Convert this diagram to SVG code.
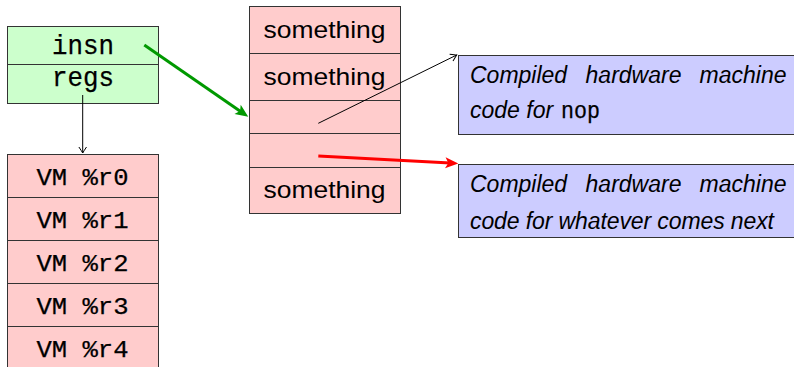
<svg xmlns="http://www.w3.org/2000/svg" width="794" height="367" viewBox="0 0 794 367">
<style>
.box{stroke:#333;stroke-width:1}
.g{fill:#ccffcc}
.p{fill:#ffcccc}
.b{fill:#ccccff}
.tt{font-family:"Liberation Mono",monospace;fill:#000;stroke:#000;stroke-width:0.25;text-anchor:middle}
.ss{font-family:"Liberation Sans",sans-serif;font-size:24px;fill:#000;text-anchor:middle}
.it{font-family:"Liberation Sans",sans-serif;font-style:italic;font-size:23px;fill:#000}
</style>
<defs>
<marker id="thin" markerUnits="userSpaceOnUse" markerWidth="20" markerHeight="20" orient="auto" overflow="visible" refX="0" refY="0">
<path d="M-6,-3.8 Q-1.5,-0.8 0,0 Q-1.5,0.8 -6,3.8" fill="none" stroke="#000" stroke-width="1"/>
</marker>
<marker id="greenHead" markerUnits="userSpaceOnUse" markerWidth="30" markerHeight="30" orient="auto" overflow="visible" refX="0" refY="0">
<path d="M8,0 L-5,-5.5 L-2,0 L-5,5.5 Z" fill="#009900"/>
</marker>
<marker id="redHead" markerUnits="userSpaceOnUse" markerWidth="30" markerHeight="30" orient="auto" overflow="visible" refX="0" refY="0">
<path d="M8,0 L-5,-5.5 L-2,0 L-5,5.5 Z" fill="#ff0000"/>
</marker>
</defs>
<g id="state">
<rect class="box g" x="7.5" y="26.5" width="151" height="38"/>
<rect class="box g" x="7.5" y="64.5" width="151" height="39"/>
<text class="tt" x="83" y="54" font-size="28" textLength="62" lengthAdjust="spacingAndGlyphs">insn</text>
<text class="tt" x="83" y="86" font-size="28" textLength="62" lengthAdjust="spacingAndGlyphs">regs</text>
</g>
<g id="registers">
<rect class="box p" x="7.5" y="154.5" width="151" height="43"/>
<rect class="box p" x="7.5" y="197.5" width="151" height="43"/>
<rect class="box p" x="7.5" y="240.5" width="151" height="43"/>
<rect class="box p" x="7.5" y="283.5" width="151" height="43"/>
<rect class="box p" x="7.5" y="326.5" width="151" height="45"/>
<text class="tt" x="82.5" y="185" font-size="24" textLength="92" lengthAdjust="spacingAndGlyphs">VM %r0</text>
<text class="tt" x="82.5" y="228" font-size="24" textLength="92" lengthAdjust="spacingAndGlyphs">VM %r1</text>
<text class="tt" x="82.5" y="271" font-size="24" textLength="92" lengthAdjust="spacingAndGlyphs">VM %r2</text>
<text class="tt" x="82.5" y="314" font-size="24" textLength="92" lengthAdjust="spacingAndGlyphs">VM %r3</text>
<text class="tt" x="82.5" y="357" font-size="24" textLength="92" lengthAdjust="spacingAndGlyphs">VM %r4</text>
</g>
<g id="code">
<rect class="box p" x="249.5" y="6.5" width="151" height="47"/>
<rect class="box p" x="249.5" y="53.5" width="151" height="47"/>
<rect class="box p" x="249.5" y="100.5" width="151" height="33"/>
<rect class="box p" x="249.5" y="133.5" width="151" height="34"/>
<rect class="box p" x="249.5" y="167.5" width="151" height="46"/>
<text class="ss" x="324.5" y="37.5" textLength="122" lengthAdjust="spacingAndGlyphs">something</text>
<text class="ss" x="324.5" y="84.5" textLength="122" lengthAdjust="spacingAndGlyphs">something</text>
<text class="ss" x="324.5" y="198" textLength="122" lengthAdjust="spacingAndGlyphs">something</text>
</g>
<g id="nopcode">
<rect class="box b" x="458.5" y="55.5" width="340" height="79"/>
<text class="it" x="470" y="83">Compiled</text>
<text class="it" x="633.5" y="83" text-anchor="middle">hardware</text>
<text class="it" x="786.5" y="83" text-anchor="end">machine</text>
<text class="it" x="470" y="118">code for</text>
<text class="tt" x="580.5" y="118" font-size="23" textLength="39" lengthAdjust="spacingAndGlyphs" stroke-width="0.15">nop</text>
</g>
<g id="nextcode">
<rect class="box b" x="458.5" y="164.5" width="340" height="73"/>
<text class="it" x="470" y="192">Compiled</text>
<text class="it" x="633.5" y="192" text-anchor="middle">hardware</text>
<text class="it" x="786.5" y="192" text-anchor="end">machine</text>
<text class="it" x="470" y="228.5" textLength="304" lengthAdjust="spacing">code for whatever comes next</text>
</g>
<g id="connectors" fill="none">
<line x1="82.7" y1="95" x2="82.7" y2="153" stroke="#000" stroke-width="1" marker-end="url(#thin)"/>
<line x1="144.3" y1="45" x2="241.7" y2="112.2" stroke="#009900" stroke-width="3" marker-end="url(#greenHead)"/>
<line x1="318.3" y1="123.3" x2="456.7" y2="55" stroke="#000" stroke-width="1" marker-end="url(#thin)"/>
<line x1="318.3" y1="156" x2="450.3" y2="163.1" stroke="#ff0000" stroke-width="3" marker-end="url(#redHead)"/>
</g>
</svg>
